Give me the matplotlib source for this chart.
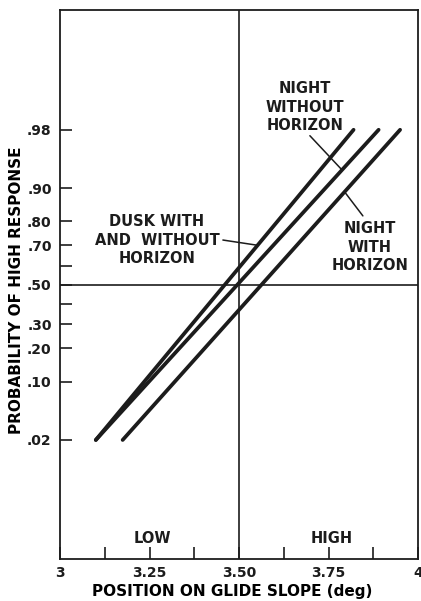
import numpy as np
import matplotlib
matplotlib.use("Agg")
import matplotlib.pyplot as plt
from statistics import NormalDist

# --- data (probit ordinate) ---
curve_names = ["DUSK WITH AND WITHOUT HORIZON", "NIGHT WITHOUT HORIZON", "NIGHT WITH HORIZON"]
curve_x = [[3.10, 3.82], [3.10, 3.89], [3.175, 3.95]]
curve_p = [[0.02, 0.98], [0.02, 0.98], [0.02, 0.98]]

ytick_vals = [0.02, 0.10, 0.20, 0.30, 0.40, 0.50, 0.60, 0.70, 0.80, 0.90, 0.98]
ytick_labels = [".02", ".10", ".20", ".30", "", ".50", "", ".70", ".80", ".90", ".98"]
xtick_vals = [3.0, 3.25, 3.5, 3.75, 4.0]
xtick_labels = ["3", "3.25", "3.50", "3.75", "4"]
xminor_vals = [3.125, 3.375, 3.625, 3.875]

nd = NormalDist()
_ppf = np.vectorize(lambda p: nd.inv_cdf(min(max(p, 1e-12), 1 - 1e-12)), otypes=[float])
_cdf = np.vectorize(lambda z: nd.cdf(z), otypes=[float])


def forward(p):
    return _ppf(np.asarray(p, dtype=float))


def inverse(z):
    return _cdf(np.asarray(z, dtype=float))


def x_on_curve(i, p):
    # straight line in probit space
    z0, z1 = nd.inv_cdf(curve_p[i][0]), nd.inv_cdf(curve_p[i][1])
    x0, x1 = curve_x[i]
    return x0 + (nd.inv_cdf(p) - z0) / (z1 - z0) * (x1 - x0)


plt.rcParams['font.family'] = ['DejaVu Sans']
FS = 10
INK = '#1c1c1c'

fig = plt.figure(figsize=(4.21, 6.01), dpi=100)
ax = fig.add_axes([60 / 421, 42 / 601, 358 / 421, 549 / 601])
ax.set_yscale('function', functions=(forward, inverse))
ax.set_xlim(3, 4)
ax.set_ylim(nd.cdf(-3.63), nd.cdf(3.64))

for xs, ps in zip(curve_x, curve_p):
    ax.plot(xs, ps, color=INK, lw=2.7, solid_capstyle='round')

ax.axvline(3.5, color=INK, lw=1.2)
ax.axhline(0.5, color=INK, lw=1.2)

ax.set_yticks(ytick_vals)
ax.set_yticklabels(ytick_labels)
ax.yaxis.set_minor_locator(matplotlib.ticker.NullLocator())
ax.set_xticks(xtick_vals)
ax.set_xticklabels(xtick_labels)
ax.set_xticks(xminor_vals, minor=True)
ax.tick_params(axis='both', which='both', direction='in', length=8.5, width=1.2,
               colors=INK, labelsize=FS)
ax.tick_params(axis='x', pad=5)
ax.tick_params(axis='y', pad=6)
for lab in ax.get_xticklabels() + ax.get_yticklabels():
    lab.set_fontweight('bold')
for s in ax.spines.values():
    s.set_linewidth(1.3)
    s.set_color(INK)

ax.set_xlabel("POSITION ON GLIDE SLOPE (deg)", fontsize=11, fontweight='bold',
              labelpad=3, x=0.482)
ax.set_ylabel("PROBABILITY OF HIGH RESPONSE", fontsize=11, fontweight='bold',
              labelpad=2, y=0.49)

tk = dict(fontsize=10.5, fontweight='bold', ha='center', va='center',
          transform=ax.transAxes, linespacing=1.3, color=INK)
ax.text(0.684, 0.823, "NIGHT\nWITHOUT\nHORIZON", **tk)
ax.text(0.866, 0.568, "NIGHT\nWITH\nHORIZON", **tk)
ax.text(0.271, 0.581, "DUSK WITH\nAND  WITHOUT\nHORIZON", **tk)
ax.text(0.257, 0.038, "LOW", **tk)
ax.text(0.760, 0.038, "HIGH", **tk)

lead = dict(arrowstyle='-', color=INK, lw=1.1, shrinkA=0, shrinkB=0)
ax.annotate("", xy=(x_on_curve(1, 0.936), 0.936), xycoords='data',
            xytext=(0.698, 0.771), textcoords='axes fraction', arrowprops=lead)
ax.annotate("", xy=(x_on_curve(2, 0.891), 0.891), xycoords='data',
            xytext=(0.846, 0.625), textcoords='axes fraction', arrowprops=lead)
ax.annotate("", xy=(x_on_curve(0, 0.70), 0.70), xycoords='data',
            xytext=(0.455, 0.581), textcoords='axes fraction', arrowprops=lead)

fig.savefig("out.png", dpi=100)
